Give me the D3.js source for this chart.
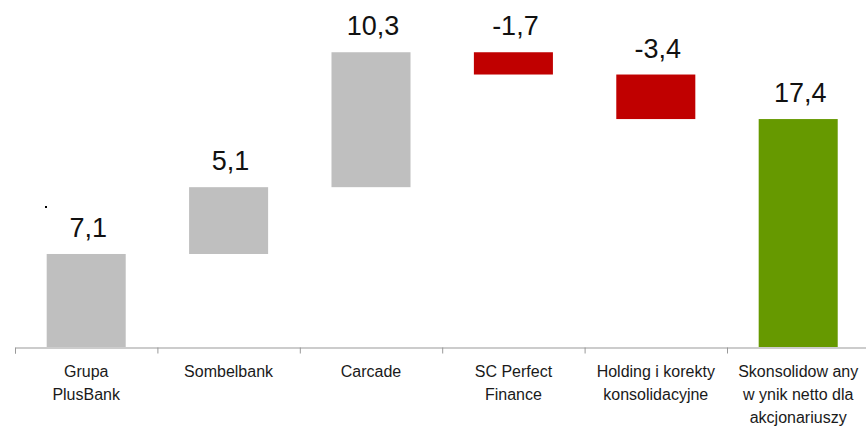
<!DOCTYPE html>
<html>
<head>
<meta charset="utf-8">
<script src="https://cdn.jsdelivr.net/npm/d3@7"></script>
<style>
  body { margin: 0; background: #fff; }
  svg { display: block; font-family: "Liberation Sans", Arial, sans-serif; }
</style>
</head>
<body>
<div id="figure"></div>
<script>
// waterfall data
var categories = [
    ["Grupa", "PlusBank"],
    ["Sombelbank"],
    ["Carcade"],
    ["SC Perfect", "Finance"],
    ["Holding i korekty", "konsolidacyjne"],
    ["Skonsolidow any", "w ynik netto dla", "akcjonariuszy"]
];
var values = [7.1, 5.1, 10.3, -1.7, -3.4, 17.4];
var isTotal = [false, false, false, false, false, true];
var valueLabels = ["7,1", "5,1", "10,3", "-1,7", "-3,4", "17,4"];

var width = 866, height = 426;

var svg = d3.select("#figure")
    .append("svg")
    .attr("width", width)
    .attr("height", height);

// running totals
var running = 0;
var bars = values.map(function (v, i) {
    var start, end;
    if (isTotal[i]) { start = 0; end = v; running = v; }
    else { start = running; end = running + v; running = end; }
    return { i: i, v: v, start: start, end: end, total: isTotal[i] };
});

var x = d3.scaleBand()
    .domain(d3.range(values.length))
    .range([15, 869.4])
    .paddingInner(0.445)
    .paddingOuter(0.2225);

var y = d3.scaleLinear()
    .domain([0, 25])
    .range([347, 19.5]);

function barColor(d) {
    if (d.total) return "#669900";
    return d.v < 0 ? "#c00000" : "#bfbfbf";
}

svg.selectAll(".bar")
    .data(bars)
    .enter()
    .append("rect")
    .attr("class", "bar")
    .attr("x", function (d) { return x(d.i) })
    .attr("width", x.bandwidth())
    .attr("y", function (d) { return y(Math.max(d.start, d.end)) })
    .attr("height", function (d) { return Math.abs(y(d.start) - y(d.end)) })
    .attr("fill", barColor);

svg.selectAll(".val")
    .data(bars)
    .enter()
    .append("text")
    .attr("class", "val")
    .attr("x", function (d) { return x(d.i) + x.bandwidth() / 2 + 2 })
    .attr("y", function (d) { return y(Math.max(d.start, d.end)) - 17 })
    .attr("text-anchor", "middle")
    .attr("font-size", "27px")
    .attr("fill", "#111")
    .text(function (d) { return valueLabels[d.i] });

// axis with ticks between categories
var edges = d3.scaleLinear()
    .domain([0, values.length])
    .range([15, 869.4]);

var axis = svg.append("g")
    .attr("transform", "translate(0,347.5)")
    .call(d3.axisBottom(edges)
        .tickValues(d3.range(values.length + 1))
        .tickSize(6)
        .tickFormat(""));
axis.selectAll("path, line").attr("stroke", "#999");

// category labels
var labels = svg.selectAll(".cat")
    .data(categories)
    .enter()
    .append("text")
    .attr("class", "cat")
    .attr("text-anchor", "middle")
    .attr("font-size", "16px")
    .attr("fill", "#1a1a1a");

labels.selectAll("tspan")
    .data(function (d, i) { return d.map(function (s, j) { return { s: s, i: i, j: j } }) })
    .enter()
    .append("tspan")
    .attr("x", function (d) { return x(d.i) + x.bandwidth() / 2 })
    .attr("y", function (d) { return 377 + d.j * 23 })
    .text(function (d) { return d.s });

// stray mark in the source
svg.append("rect")
    .attr("x", 45).attr("y", 206)
    .attr("width", 2).attr("height", 2)
    .attr("fill", "#000");
</script>
</body>
</html>
